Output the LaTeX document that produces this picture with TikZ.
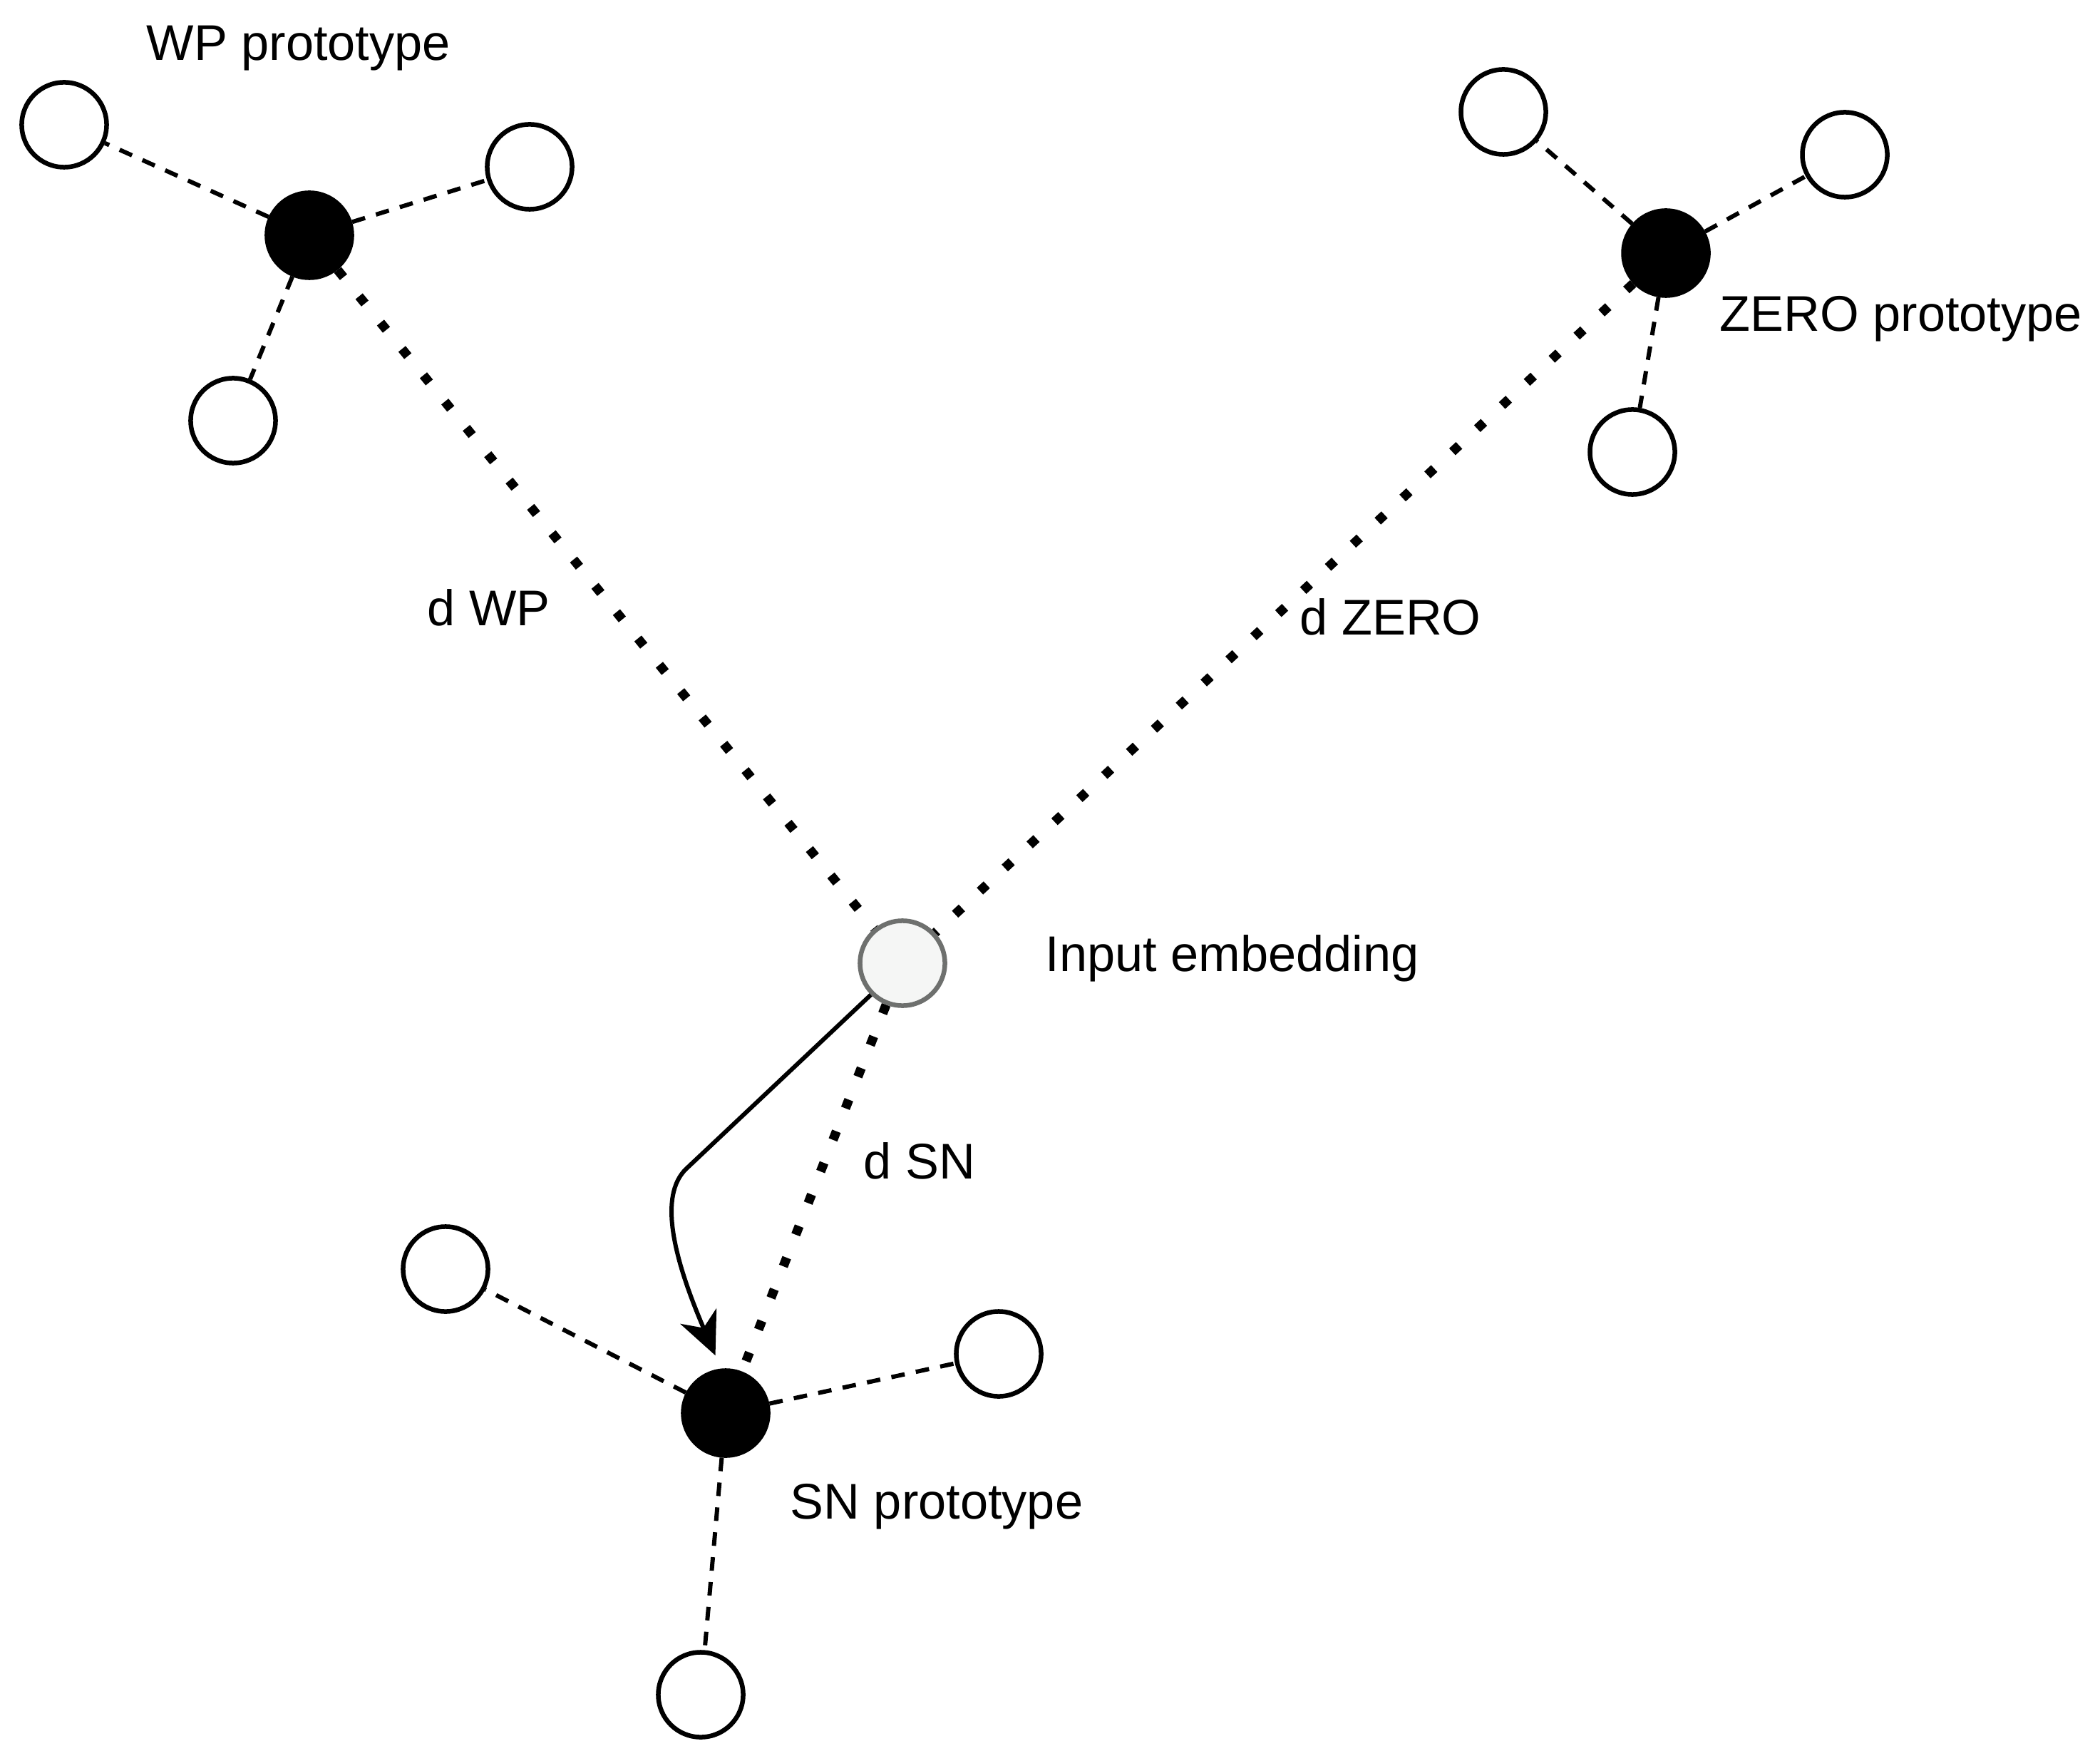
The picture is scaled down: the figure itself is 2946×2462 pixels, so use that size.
\documentclass[tikz,border=0pt]{standalone}
\usepackage{fontspec}
\setmainfont{Liberation Sans}
\usepackage{xcolor}
\usetikzlibrary{arrows.meta}
\definecolor{embfill}{RGB}{245,246,245}
\definecolor{embdraw}{RGB}{110,112,110}

\begin{document}
\begin{tikzpicture}[x=0.01cm,y=0.01cm,
member/.style={circle,draw=black,fill=white,line width=0.065cm,minimum size=1.19cm,inner sep=0pt},
proto/.style={circle,draw=black,fill=black,line width=0.065cm,minimum size=1.19cm,inner sep=0pt},
embed/.style={circle,draw=embdraw,fill=embfill,line width=0.065cm,minimum size=1.19cm,inner sep=0pt},
tag/.style={anchor=base west,inner sep=0pt,font=\fontsize{20}{24}\selectfont},
memberline/.style={line width=0.06cm,dash pattern=on 0.19cm off 0.16cm},
distline/.style={line width=0.13cm,dash pattern=on 0.13cm off 0.346cm},
moveline/.style={line width=0.06cm,-{Stealth[length=0.6cm,width=0.55cm,inset=0.18cm]}}]
\useasboundingbox (0,0) rectangle (2946,2462);
\node[proto] (wp) at (434,2132) {};
\node[member] (wp1) at (90,2287) {};
\node[member] (wp2) at (743,2228) {};
\node[member] (wp3) at (327,1872) {};
\node[tag] (wplabel) at (205,2377) {WP prototype};
\node[proto] (zero) at (2337,2107) {};
\node[member] (zero1) at (2109,2305) {};
\node[member] (zero2) at (2588,2245) {};
\node[member] (zero3) at (2290,1828) {};
\node[tag] (zerolabel) at (2412,1997) {ZERO prototype};
\node[proto] (sn) at (1018,480) {};
\node[member] (sn1) at (625,682) {};
\node[member] (sn2) at (1401,563) {};
\node[member] (sn3) at (983,85) {};
\node[tag] (snlabel) at (1108,332) {SN prototype};
\node[embed] (ie) at (1266,1111) {};
\node[tag] (ielabel) at (1466,1100) {Input embedding};
\node[tag] (dwp) at (599,1584) {d WP};
\node[tag] (dzero) at (1823,1571) {d ZERO};
\node[tag] (dsn) at (1211,809) {d SN};
\draw[memberline] (wp) -- (wp1);
\draw[memberline] (wp) -- (wp2);
\draw[memberline] (wp) -- (wp3);
\draw[memberline] (zero) -- (zero1);
\draw[memberline] (zero) -- (zero2);
\draw[memberline] (zero) -- (zero3);
\draw[memberline] (sn) -- (sn1);
\draw[memberline] (sn) -- (sn2);
\draw[memberline] (sn) -- (sn3);
\draw[distline] (wp) -- (ie);
\draw[distline] (zero) -- (ie);
\draw[distline] (ie) -- (sn);
\draw[moveline, shorten >=0.2cm] (ie.225) -- (962,822) .. controls (930,790) and (935,720) .. (sn.96);
\end{tikzpicture}
\end{document}
